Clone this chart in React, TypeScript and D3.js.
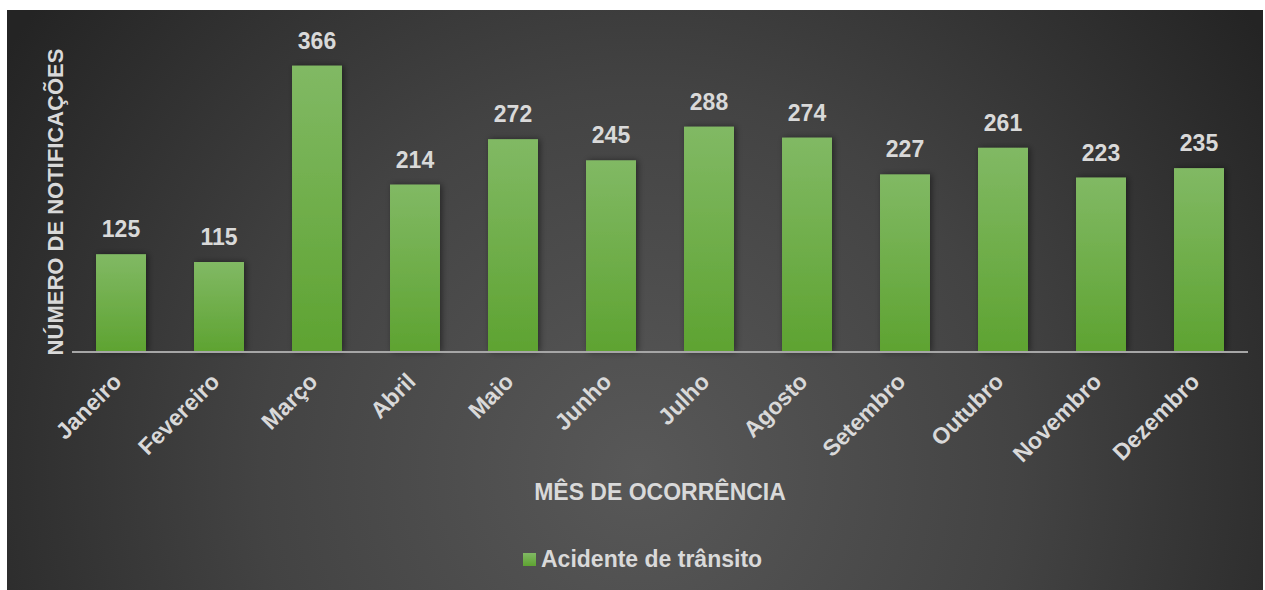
import React from "react";
import * as d3 from "d3";

const months = [
  "Janeiro", "Fevereiro", "Março", "Abril", "Maio", "Junho",
  "Julho", "Agosto", "Setembro", "Outubro", "Novembro", "Dezembro",
];
const counts = [125, 115, 366, 214, 272, 245, 288, 274, 227, 261, 223, 235];
const seriesName = "Acidente de trânsito";
const yTitle = "NÚMERO DE NOTIFICAÇÕES";
const xTitle = "MÊS DE OCORRÊNCIA";

export default function App() {
  const width = 1265;
  const height = 590;
  const font = "'Liberation Sans', Arial, sans-serif";
  const textColor = "#d9d9d9";

  const x = d3.scaleBand<string>().domain(months).range([72, 1248]).paddingInner(0.49).paddingOuter(0.245);
  const y = d3.scaleLinear().domain([0, 400]).range([352, 39]);

  return (
    <svg
      width={width}
      height={height}
      style={{ position: "absolute", left: 0, top: 0, fontFamily: font }}
    >
      <defs>
        <radialGradient id="bg" gradientUnits="userSpaceOnUse" cx={640} cy={470} r={760}>
          <stop offset="0%" stopColor="#585858" />
          <stop offset="50%" stopColor="#434343" />
          <stop offset="100%" stopColor="#242424" />
        </radialGradient>
        <linearGradient id="bar" x1="0" y1="0" x2="0" y2="1">
          <stop offset="0%" stopColor="#81b964" />
          <stop offset="100%" stopColor="#5ea331" />
        </linearGradient>
        <filter id="shadow" x="-30%" y="-10%" width="160%" height="120%">
          <feDropShadow dx="2" dy="0" stdDeviation="3" floodColor="#000" floodOpacity="0.45" />
        </filter>
      </defs>
      <rect x={7} y={10} width={1256} height={height - 10} fill="url(#bg)" />

      {months.map((m, i) => (
        <rect
          key={m}
          x={x(m)}
          y={y(counts[i])}
          width={x.bandwidth()}
          height={y(0) - y(counts[i])}
          fill="url(#bar)"
          filter="url(#shadow)"
        />
      ))}

      <line x1={72} x2={1248} y1={y(0)} y2={y(0)} stroke="#a6a6a6" strokeWidth={2} />

      {months.map((m, i) => (
        <text
          key={"v" + m}
          x={(x(m) ?? 0) + x.bandwidth() / 2}
          y={y(counts[i]) - 17}
          textAnchor="middle"
          fill={textColor}
          fontSize={23}
          fontWeight="bold"
        >
          {counts[i]}
        </text>
      ))}

      {months.map((m) => {
        const cx = (x(m) ?? 0) + x.bandwidth() / 2 + 2;
        const cy = 383;
        return (
          <text
            key={"l" + m}
            transform={`translate(${cx},${cy}) rotate(-45)`}
            textAnchor="end"
            fill={textColor}
            fontSize={23}
            fontWeight="bold"
          >
            {m}
          </text>
        );
      })}

      <text
        transform="translate(63,202) rotate(-90)"
        textAnchor="middle"
        fill={textColor}
        fontSize={22}
        fontWeight="bold"
      >
        {yTitle}
      </text>

      <text x={660} y={500} textAnchor="middle" fill={textColor} fontSize={23} fontWeight="bold">
        {xTitle}
      </text>

      <rect x={523} y={553} width={13} height={13} fill="url(#bar)" />
      <text x={541} y={567} fill={textColor} fontSize={23} fontWeight="bold">
        {seriesName}
      </text>
    </svg>
  );
}
